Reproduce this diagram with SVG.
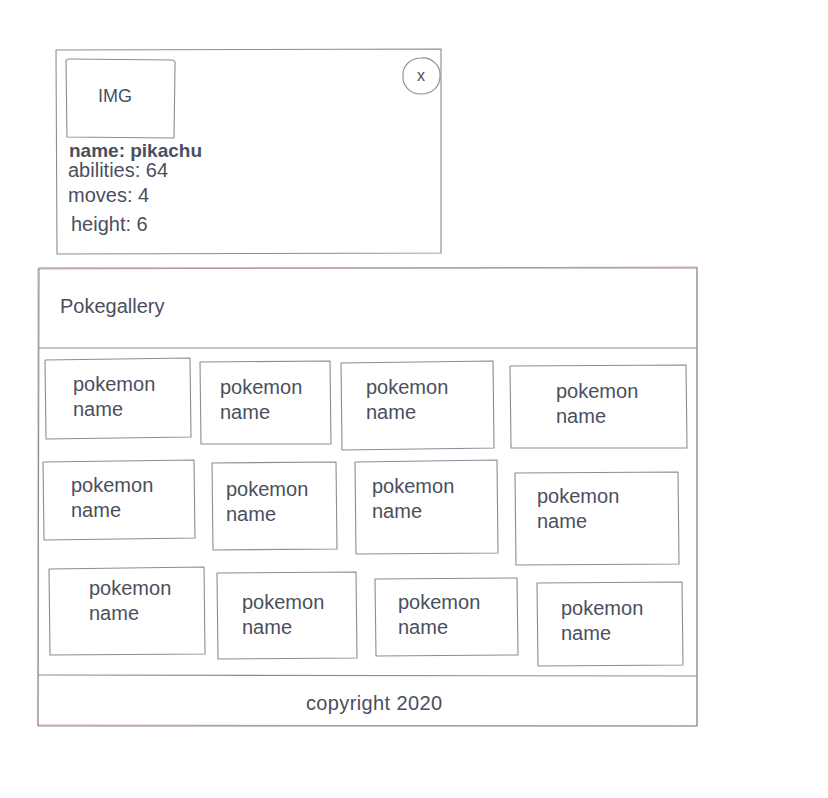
<svg xmlns="http://www.w3.org/2000/svg" width="828" height="798" viewBox="0 0 828 798">
<style>
.b{fill:none;stroke:#8a8d98;stroke-width:1.1;stroke-linejoin:round}
.pk{fill:none;stroke:#e59aac;stroke-width:1}
.t{font-family:"Liberation Sans",Arial,sans-serif;font-size:20px;fill:#4a4f5e}
.bd{font-weight:bold;font-size:19px}
</style>
<rect width="828" height="798" fill="#fff"/>
<g id="popup">
<path class="b" d="M56,50 L441,49 L441,253 L57,254 Z"/>
<g id="img"><path class="b" d="M66,61 Q66,59 70,59 L172,60 Q176,61 175,65 L174,138 L67,137 Z"/><text class="t" x="115" y="102" text-anchor="middle" style="font-size:18px">IMG</text></g>
<g id="close"><path class="b" d="M421,58 C432,57 441,66 440,76 C440,87 432,94 421,94 C410,94 402,86 403,75 C403,65 411,58 421,58 Z"/><text class="t" x="421" y="81" text-anchor="middle" style="font-size:16px">x</text></g>
<text class="t bd" x="69" y="157">name: pikachu</text>
<text class="t" x="68" y="177">abilities: 64</text>
<text class="t" x="68" y="202">moves: 4</text>
<text class="t" x="71" y="231">height: 6</text>
</g>
<g id="gallery">
<path class="pk" d="M38,269 L697,267 L697,726 L38,725 Z"/>
<path class="b" d="M39,268 L697,268 L697,726 L38,726 Z"/>
<g id="header"><path class="b" d="M39,348 L697,348"/><text class="t" x="60" y="313">Pokegallery</text></g>
<g id="footer"><path class="b" d="M38,675 L697,676"/><text class="t" x="374" y="710" text-anchor="middle" textLength="136">copyright 2020</text></g>
</g>
<g id="cards">
<g id="c1"><path class="b" d="M45,360 L190,358 L191,437 L46,439 Z"/><text class="t" x="73" y="391">pokemon</text><text class="t" x="73" y="416">name</text></g>
<g id="c2"><path class="b" d="M200,362 L330,361 L331,444 L201,444 Z"/><text class="t" x="220" y="394">pokemon</text><text class="t" x="220" y="419">name</text></g>
<g id="c3"><path class="b" d="M341,363 L493,361 L494,448 L342,450 Z"/><text class="t" x="366" y="394">pokemon</text><text class="t" x="366" y="419">name</text></g>
<g id="c4"><path class="b" d="M510,366 L686,365 L687,448 L511,448 Z"/><text class="t" x="556" y="398">pokemon</text><text class="t" x="556" y="423">name</text></g>
<g id="c5"><path class="b" d="M43,462 L194,460 L195,538 L44,540 Z"/><text class="t" x="71" y="492">pokemon</text><text class="t" x="71" y="517">name</text></g>
<g id="c6"><path class="b" d="M212,463 L336,462 L337,549 L213,550 Z"/><text class="t" x="226" y="496">pokemon</text><text class="t" x="226" y="521">name</text></g>
<g id="c7"><path class="b" d="M355,462 L497,460 L498,553 L356,554 Z"/><text class="t" x="372" y="493">pokemon</text><text class="t" x="372" y="518">name</text></g>
<g id="c8"><path class="b" d="M515,473 L678,472 L679,564 L516,565 Z"/><text class="t" x="537" y="503">pokemon</text><text class="t" x="537" y="528">name</text></g>
<g id="c9"><path class="b" d="M49,569 L204,567 L205,654 L50,655 Z"/><text class="t" x="89" y="595">pokemon</text><text class="t" x="89" y="620">name</text></g>
<g id="c10"><path class="b" d="M217,573 L356,572 L357,658 L218,659 Z"/><text class="t" x="242" y="609">pokemon</text><text class="t" x="242" y="634">name</text></g>
<g id="c11"><path class="b" d="M375,579 L517,578 L518,655 L376,656 Z"/><text class="t" x="398" y="609">pokemon</text><text class="t" x="398" y="634">name</text></g>
<g id="c12"><path class="b" d="M537,583 L682,582 L683,665 L538,666 Z"/><text class="t" x="561" y="615">pokemon</text><text class="t" x="561" y="640">name</text></g>
</g>
</svg>
